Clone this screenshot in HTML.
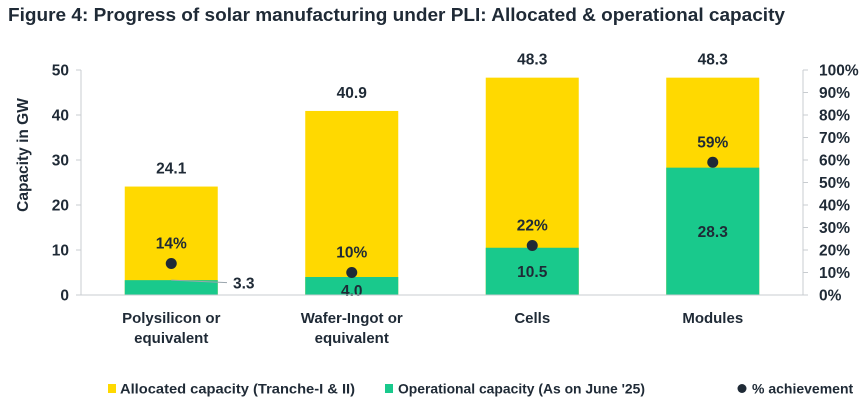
<!DOCTYPE html>
<html><head><meta charset="utf-8"><style>
body{margin:0;background:#fff;font-family:"Liberation Sans",Arial,sans-serif}
svg text{font-family:"Liberation Sans",Arial,sans-serif;font-weight:bold;fill:#1f2a36}
</style></head><body>
<svg id="c" width="864" height="407" xmlns="http://www.w3.org/2000/svg">
<text x="8" y="21" font-size="18" textLength="777" lengthAdjust="spacingAndGlyphs">Figure 4: Progress of solar manufacturing under PLI: Allocated &amp; operational capacity</text>
<text transform="translate(28,155) rotate(-90)" text-anchor="middle" font-size="15.5">Capacity in GW</text>
<g id="g"></g>
<g>
<rect x="108" y="384" width="8" height="9" fill="#FFD900"/>
<text x="120" y="393.5" font-size="14" textLength="235" lengthAdjust="spacingAndGlyphs">Allocated capacity (Tranche-I &amp; II)</text>
<rect x="385" y="384" width="8" height="9" fill="#19C98C"/>
<text x="398" y="393.5" font-size="14" textLength="247" lengthAdjust="spacingAndGlyphs">Operational capacity (As on June '25)</text>
<circle cx="742" cy="388.5" r="4.5" fill="#1f2a36"/>
<text x="752" y="393.5" font-size="14">% achievement</text>
</g>
</svg>
<script>
const categories=[["Polysilicon or","equivalent"],["Wafer-Ingot or","equivalent"],["Cells"],["Modules"]];
const allocated=[24.1,40.9,48.3,48.3];
const operational=[3.3,4.0,10.5,28.3];
const achievement=[14,10,22,59];
const leftTicks=[0,10,20,30,40,50];
const rightTicks=[0,10,20,30,40,50,60,70,80,90,100];
const NS="http://www.w3.org/2000/svg";
const g=document.getElementById('g');
const x0=81,x1=803,yb=295,yt=70;
const y=v=>yb-(v/50)*(yb-yt);
const yp=p=>yb-(p/100)*(yb-yt);
const bw=(x1-x0)/categories.length;
const cx=i=>x0+bw*(i+0.5);
function mk(t,a){const e=document.createElementNS(NS,t);for(const k in a)e.setAttribute(k,a[k]);g.appendChild(e);return e;}
const ax=mk('line',{x1:x0,y1:yt,x2:x0,y2:yb,stroke:'#c8ccd0'});


const ax2=mk('line',{x1:x1,y1:yt,x2:x1,y2:yb,stroke:'#c8ccd0'});


leftTicks.forEach(v=>{mk('line',{x1:x0-5,x2:x0,y1:y(v),y2:y(v),stroke:'#c8ccd0'});
const t=mk('text',{x:69,y:y(v)+5.5,'text-anchor':'end','font-size':15.5});t.textContent=v;

});
rightTicks.forEach(v=>{mk('line',{x1:x1,x2:x1+5,y1:yp(v),y2:yp(v),stroke:'#c8ccd0'});
const t=mk('text',{x:819,y:yp(v)+5.5,'font-size':15.5});t.textContent=v+'%';

});
categories.forEach((c,i)=>{
const w=93,bx=cx(i)-w/2;
const a=mk('rect',{x:bx,y:y(allocated[i]),width:w,height:yb-y(allocated[i]),fill:'#FFD900'});


const o=mk('rect',{x:bx,y:y(operational[i]),width:w,height:yb-y(operational[i]),fill:'#19C98C'});


const t=mk('text',{x:cx(i),y:y(allocated[i])-13,'text-anchor':'middle','font-size':15.5});t.textContent=allocated[i].toFixed(1);


let ox=cx(i),oy=(y(operational[i])+yb)/2+5.5,anchor='middle';
if(i===0){ox=233;oy=y(operational[i])+8.5;anchor='start';
mk('line',{x1:cx(i),y1:y(operational[i]),x2:227,y2:y(operational[i])+2.5,stroke:'#9aa5ad'});}
else if(i===1){oy=yb+1;}
const ot=mk('text',{x:ox,y:oy,'text-anchor':anchor,'font-size':15.5});ot.textContent=operational[i].toFixed(1);


const d=mk('circle',{cx:cx(i),cy:yp(achievement[i]),r:5.5,fill:'#1f2a36'});


const pt=mk('text',{x:cx(i),y:yp(achievement[i])-15,'text-anchor':'middle','font-size':15.5});pt.textContent=achievement[i]+'%';


c.forEach((line,j)=>{const ct=mk('text',{x:cx(i),y:323+j*20,'text-anchor':'middle','font-size':15});ct.textContent=line;

});
});
const base=mk('line',{x1:x0-5,y1:yb,x2:x1,y2:yb,stroke:'#c8ccd0'});


</script>
</body></html>
